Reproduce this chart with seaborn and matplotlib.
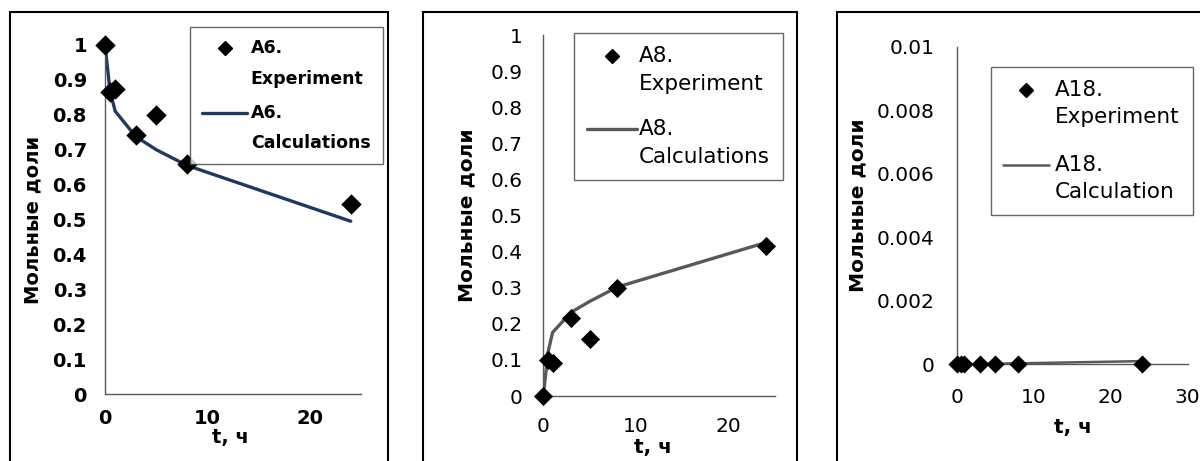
import matplotlib
matplotlib.use("Agg")
import numpy as np
import matplotlib.pyplot as plt
import seaborn as sns
import pandas as pd
from matplotlib.lines import Line2D
from matplotlib.patches import Rectangle

# experiment times and calculation times, h
t_exp = [0, 0.5, 1, 3, 5, 8, 24]
t_calc = [0, 0.5, 1, 3, 5, 8, 24]

a6_exp = [1.0, 0.865, 0.875, 0.742, 0.80, 0.66, 0.545]
a6_calc = [1.0, 0.866, 0.81, 0.738, 0.70, 0.655, 0.495]

a8_exp = [0.0, 0.10, 0.092, 0.217, 0.158, 0.298, 0.416]
a8_calc = [0.0, 0.12, 0.176, 0.232, 0.262, 0.302, 0.425]

a18_exp = [0.0, 0.0, 0.0, 0.0, 0.0, 0.0, 0.0]
a18_calc = [0.0, 0.0, 0.0, 0.00001, 0.00002, 0.00003, 0.0001]

y_label = "Мольные доли"
x_label = "t, ч"

W, H = 1200, 461

sns.set_style("white")
plt.rcParams["font.family"] = ["DejaVu Sans"]
plt.rcParams["text.color"] = "black"
plt.rcParams["axes.labelcolor"] = "black"
plt.rcParams["xtick.labelcolor"] = "black"
plt.rcParams["ytick.labelcolor"] = "black"

fig = plt.figure(figsize=(W / 100, H / 100), dpi=100)


def px_axes(left, right, top, bottom):
    return fig.add_axes([left / W, 1 - bottom / H, (right - left) / W, (bottom - top) / H])


def px_to_ax(ax_box, x, y):
    left, right, top, bottom = ax_box
    return (x - left) / (right - left), (bottom - y) / (bottom - top)


panels = [
    dict(box=(105, 361, 45, 394), frame=(10, 388),
         t_e=t_exp, y_e=a6_exp, t_c=t_calc, y_c=a6_calc,
         color="#1f3a5f", lw=2.4, ms=108, weight="bold",
         xlim=(0, 25), xticks=[0, 10, 20],
         ylim=(0, 1), yticks=[i / 10 for i in range(11)],
         ylabels=["0"] + [f"{i / 10:.1f}" for i in range(1, 10)] + ["1"],
         tick_fs=14, lab_fs=14, leg_fs=12.5, ypad=8, xpad=6,
         line_sp=1.87, lab_sp=0.93, hlen=2.6, htpad=0.2, bpad=0.7,
         labels=["A6.\nExperiment", "A6.\nCalculations"],
         leg_anchor=(382.7, 27.3), xlab_px=(230, 437), ylab_px=33),
    dict(box=(543.3, 775, 35, 396), frame=(423, 797),
         t_e=t_exp, y_e=a8_exp, t_c=t_calc, y_c=a8_calc,
         color="#595959", lw=2.4, ms=95, weight="normal",
         xlim=(0, 25), xticks=[0, 10, 20],
         ylim=(0, 1), yticks=[i / 10 for i in range(11)],
         ylabels=["0"] + [f"{i / 10:.1f}" for i in range(1, 10)] + ["1"],
         tick_fs=14.5, lab_fs=14.5, leg_fs=15.5, ypad=10, xpad=10,
         line_sp=1.46, lab_sp=1.2, hlen=2.3, htpad=0.1, bpad=0.6,
         labels=["A8.\nExperiment", "A8.\nCalculations"],
         leg_anchor=(782.7, 33.3), xlab_px=(653.3, 447), ylab_px=466.7),
    dict(box=(956.7, 1187.7, 46.7, 364.3), frame=(837, 1215),
         t_e=t_exp, y_e=a18_exp, t_c=t_calc, y_c=a18_calc,
         color="#595959", lw=1.8, ms=85, weight="normal",
         xlim=(0, 30), xticks=[0, 10, 20, 30],
         ylim=(0, 0.01), yticks=[0, 0.002, 0.004, 0.006, 0.008, 0.01],
         ylabels=["0", "0.002", "0.004", "0.006", "0.008", "0.01"],
         tick_fs=14.5, lab_fs=14.5, leg_fs=15.5, ypad=11, xpad=12,
         line_sp=1.46, lab_sp=1.3, hlen=2.1, htpad=0.3, bpad=0.6,
         labels=["A18.\nExperiment", "A18.\nCalculation"],
         leg_anchor=(1192.7, 66.7), xlab_px=(1072.7, 427), ylab_px=858),
]

legends = []
for p in panels:
    # chart area border
    fl, fr = p["frame"]
    fig.add_artist(Rectangle((fl / W, -0.05), (fr - fl) / W, 1.05 - 12 / H,
                             transform=fig.transFigure, fill=False,
                             edgecolor="black", lw=1.5))

    ax = px_axes(*p["box"])
    df_c = pd.DataFrame({"t": p["t_c"], "y": p["y_c"]})
    df_e = pd.DataFrame({"t": p["t_e"], "y": p["y_e"]})
    sns.lineplot(data=df_c, x="t", y="y", ax=ax, color=p["color"], lw=p["lw"],
                 sort=False, estimator=None, zorder=2)
    sns.scatterplot(data=df_e, x="t", y="y", ax=ax, marker="D", color="black",
                    s=p["ms"], edgecolor="black", linewidth=0, zorder=3, clip_on=False)

    ax.set_xlim(*p["xlim"])
    ax.set_ylim(*p["ylim"])
    ax.set_xticks(p["xticks"])
    ax.set_yticks(p["yticks"])
    ax.set_yticklabels(p["ylabels"])
    for s in ["top", "right"]:
        ax.spines[s].set_visible(False)
    for s in ["left", "bottom"]:
        ax.spines[s].set_color("#595959")
        ax.spines[s].set_linewidth(1)
    ax.tick_params(axis="y", direction="out", length=5, width=1, color="#595959",
                   pad=p["ypad"], labelsize=p["tick_fs"])
    ax.tick_params(axis="x", direction="out", length=5, width=1, color="#595959",
                   pad=p["xpad"], labelsize=p["tick_fs"])
    for lab in ax.get_xticklabels() + ax.get_yticklabels():
        lab.set_fontweight(p["weight"])

    ax.set_xlabel(x_label, fontsize=p["lab_fs"], fontweight=p["weight"] if p["weight"] == "bold" else "semibold")
    ax.set_ylabel(y_label, fontsize=p["lab_fs"], fontweight="bold")
    xl = px_to_ax(p["box"], *p["xlab_px"])
    ax.xaxis.set_label_coords(*xl)
    ax.xaxis.label.set_va("center")
    yl = px_to_ax(p["box"], p["ylab_px"], 0)
    ax.yaxis.set_label_coords(yl[0], 0.5)
    ax.yaxis.label.set_va("center")

    handles = [Line2D([], [], marker="D", color="black", linestyle="none", markersize=7.5),
               Line2D([], [], color=p["color"], lw=p["lw"])]
    leg = ax.legend(handles, p["labels"], loc="upper right",
                    bbox_to_anchor=(p["leg_anchor"][0] / W, 1 - p["leg_anchor"][1] / H),
                    bbox_transform=fig.transFigure, borderaxespad=0,
                    fancybox=False, frameon=True, edgecolor="#404040",
                    handlelength=p["hlen"], handletextpad=p["htpad"],
                    labelspacing=p["lab_sp"], borderpad=p["bpad"],
                    prop={"size": p["leg_fs"], "weight": p["weight"]})
    leg.get_frame().set_linewidth(1)
    for t in leg.get_texts():
        t.set_linespacing(p["line_sp"])
    legends.append((ax, leg, p))

# Excel puts the legend key next to the first line of a wrapped label
fig.canvas.draw()
renderer = fig.canvas.get_renderer()
for ax, leg, p in legends:
    probe = fig.text(0, 0, "A6.", fontsize=p["leg_fs"], fontweight=p["weight"])
    one_h = probe.get_window_extent(renderer).height
    probe.remove()
    for txt, hnd in zip(leg.get_texts(), leg.legend_handles):
        tb = txt.get_window_extent(renderer)
        hb = hnd.get_window_extent(renderer)
        shift_px = (tb.y1 - one_h / 2) - (hb.y0 + hb.y1) / 2
        hnd.set_ydata(np.asarray(hnd.get_ydata(), dtype=float) + shift_px * 72 / fig.dpi)

fig.savefig("out.png", dpi=100)
